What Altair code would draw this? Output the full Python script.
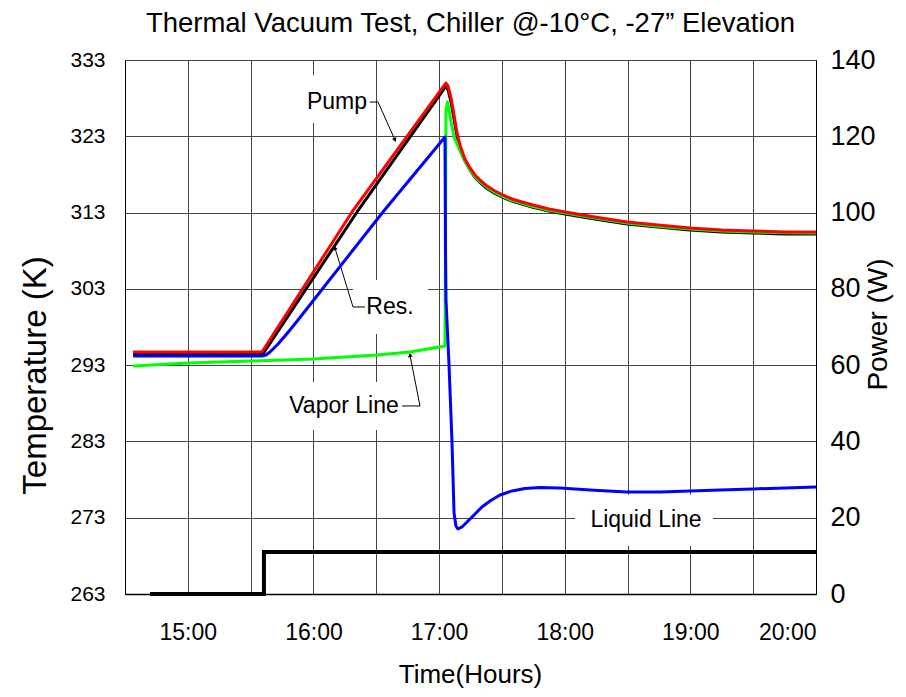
import altair as alt
import pandas as pd

FONT = "Liberation Sans, Arial, sans-serif"

# ---- data (hours of day, temperature in K / power in W) ----
red_h = [14.564, 15.590, 16.307, 17.055, 17.071, 17.095, 17.119, 17.134, 17.150, 17.174, 17.206, 17.246, 17.286, 17.325, 17.381, 17.445, 17.509, 17.580, 17.660, 17.747, 17.874, 18.002, 18.240, 18.496, 18.742, 18.997, 19.251, 19.498, 19.753, 20.0]
red_k = [294.73, 294.73, 313.08, 329.99, 329.59, 328.02, 325.79, 324.22, 322.91, 321.47, 320.03, 318.85, 317.93, 317.27, 316.48, 315.83, 315.30, 314.78, 314.39, 313.99, 313.47, 313.08, 312.42, 311.77, 311.37, 310.98, 310.72, 310.59, 310.46, 310.46]

black_h = [14.564, 15.598, 16.347, 17.055, 17.071, 17.095, 17.119, 17.134, 17.150, 17.174, 17.206, 17.246, 17.286, 17.325, 17.381, 17.445, 17.509, 17.580, 17.660, 17.747, 17.874, 18.002, 18.240, 18.496, 18.742, 18.997, 19.251, 19.498, 19.753, 20.0]
black_k = [294.46, 294.46, 313.08, 329.59, 329.1, 327.5, 325.3, 323.8, 322.5, 321.0, 319.75, 318.6, 317.6, 316.95, 316.15, 315.5, 315.0, 314.5, 314.1, 313.7, 313.2, 312.8, 312.15, 311.5, 311.1, 310.72, 310.45, 310.32, 310.2, 310.19]

green_h = [14.564, 15.001, 15.511, 15.996, 16.506, 16.768, 17.047, 17.055, 17.067, 17.079, 17.095, 17.119, 17.150, 17.174, 17.206, 17.246, 17.286, 17.325, 17.381, 17.445, 17.509, 17.580, 17.660, 17.747, 17.874, 18.002, 18.240, 18.496, 18.742, 18.997, 19.251, 19.498, 19.753, 20.0]
green_k = [292.89, 293.28, 293.55, 293.81, 294.33, 294.73, 295.51, 326.5, 327.49, 326.45, 324.9, 322.91, 321.7, 320.8, 319.7, 318.6, 317.7, 317.05, 316.3, 315.65, 315.1, 314.6, 314.2, 313.8, 313.3, 312.94, 312.3, 311.63, 311.2, 310.85, 310.6, 310.46, 310.36, 310.32]

blue_h = [14.564, 15.590, 15.622, 15.654, 15.686, 15.718, 15.766, 15.813, 15.877, 16.553, 17.047, 17.051, 17.055, 17.079, 17.103, 17.119, 17.134, 17.150, 17.182, 17.214, 17.246, 17.294, 17.341, 17.405, 17.485, 17.580, 17.684, 17.803, 17.962, 18.201, 18.496, 18.758, 18.997, 19.236, 19.498, 19.753, 20.0]
blue_k = [294.20, 294.20, 294.33, 294.73, 295.25, 295.77, 296.69, 297.61, 298.92, 313.08, 322.91, 308.1, 301.54, 293.02, 282.80, 273.62, 271.92, 271.52, 271.79, 272.31, 272.84, 273.62, 274.41, 275.19, 275.98, 276.51, 276.83, 276.96, 276.90, 276.64, 276.37, 276.37, 276.50, 276.64, 276.77, 276.90, 277.03]

power_h = [14.699, 15.606, 15.606, 20.0]
power_w = [0, 0, 11, 11]

# annotation labels (text, centre hour, centre K) and their white boxes
lab_text = ["Pump", "Res.", "Vapor Line", "Liquid Line"]
lab_h = [16.187, 16.609, 16.243, 18.647]
lab_k = [327.49, 300.62, 287.65, 272.70]
box_h1 = [15.933, 16.315, 15.758, 18.082]
box_h2 = [16.466, 16.912, 16.721, 19.180]
box_k1 = [331.0, 304.16, 290.79, 276.0]
box_k2 = [324.74, 297.08, 284.50, 269.30]

# leader lines (group, hour, K) and arrow tips
lead_g = ["p", "p", "p", "r", "r", "r", "v", "v", "v"]
lead_h = [16.450, 16.514, 16.649, 16.410, 16.315, 16.171, 16.705, 16.848, 16.768]
lead_k = [327.49, 327.49, 322.51, 300.62, 300.62, 308.36, 287.65, 287.65, 294.33]
tip_h = [16.649, 16.171, 16.768]
tip_k = [322.51, 308.36, 294.33]
tip_angle = [156, 343, 349]

# ---- tables ----
def df(h, k):
    return pd.DataFrame({"hour": h, "K": k, "i": range(len(h))})

xscale = alt.Scale(domain=[14.5, 20], nice=False, zero=False)
xaxis = alt.Axis(values=[14.5 + 0.5 * i for i in range(12)],
                 labelExpr="datum.value % 1 == 0 ? datum.value + ':00' : ''",
                 grid=True, gridColor="#444", gridWidth=1, ticks=False,
                 domainColor="black", domainWidth=1.5,
                 labelFont=FONT, labelFontSize=23, labelPadding=27, labelColor="black",
                 title="Time(Hours)", titleFont=FONT, titleFontSize=26,
                 titleFontWeight="normal", titleColor="black",
                 titleX=345, titleY=80, titleAlign="center", titleBaseline="middle")
x_enc = alt.X("hour:Q", scale=xscale, axis=xaxis)

tscale = alt.Scale(domain=[263, 333], nice=False, zero=False)
taxis = alt.Axis(values=list(range(263, 334, 10)), grid=True, gridColor="#444", gridWidth=1,
                 ticks=False, domainColor="black", labelFont=FONT, labelFontSize=21,
                 labelPadding=20, labelColor="black",
                 title="Temperature (K)", titleFont=FONT, titleFontSize=33,
                 titleFontWeight="normal", titleColor="black",
                 titleX=-90, titleY=315, titleAngle=270, titleAlign="center",
                 titleBaseline="middle")
y_enc = alt.Y("K:Q", scale=tscale, axis=taxis)

def tline(h, k, color, w=3):
    return alt.Chart(df(h, k)).mark_line(color=color, strokeWidth=w, strokeJoin="round").encode(
        x=x_enc, y=y_enc, order="i:Q")

box_df = pd.DataFrame({"h1": box_h1, "h2": box_h2, "k1": box_k1, "k2": box_k2})
boxes = alt.Chart(box_df).mark_rect(fill="white").encode(
    x=alt.X("h1:Q", scale=xscale, axis=xaxis), x2="h2:Q",
    y=alt.Y("k1:Q", scale=tscale, axis=taxis), y2="k2:Q")

lab_df = pd.DataFrame({"t": lab_text, "hour": lab_h, "K": lab_k})
labels = alt.Chart(lab_df).mark_text(font=FONT, fontSize=23, color="black", baseline="middle").encode(
    x=x_enc, y=y_enc, text="t:N")

lead_df = pd.DataFrame({"g": lead_g, "hour": lead_h, "K": lead_k, "i": range(len(lead_g))})
leaders = alt.Chart(lead_df).mark_line(color="black", strokeWidth=1).encode(
    x=x_enc, y=y_enc, detail="g:N", order="i:Q")

tip_df = pd.DataFrame({"hour": tip_h, "K": tip_k, "a": tip_angle})
tips = alt.Chart(tip_df).mark_point(shape="triangle-up", filled=True, color="black", size=22, opacity=1).encode(
    x=x_enc, y=y_enc, angle=alt.Angle("a:Q", scale=None))

temp = alt.layer(
    boxes, leaders, tips, labels,
    tline(black_h, black_k, "#000000"),
    tline(green_h, green_k, "#00FF00"),
    tline(red_h, red_k, "#FF0000"),
    tline(blue_h, blue_k, "#0000FF"),
)

power = alt.Chart(pd.DataFrame({"hour": power_h, "W": power_w, "i": range(len(power_h))})).mark_line(
    color="black", strokeWidth=4, strokeJoin="miter").encode(
    x=x_enc,
    y=alt.Y("W:Q", scale=alt.Scale(domain=[0, 140], nice=False, zero=False),
            axis=alt.Axis(orient="right", values=list(range(0, 141, 20)), grid=False, ticks=False,
                          domainColor="black", labelFont=FONT, labelFontSize=27, labelPadding=14,
                          labelColor="black",
                          title="Power (W)", titleFont=FONT, titleFontSize=28,
                          titleFontWeight="normal", titleColor="black",
                          titleX=62, titleY=264, titleAngle=270, titleAlign="center",
                          titleBaseline="middle")),
    order="i:Q")

chart = alt.layer(temp, power).resolve_scale(y="independent").properties(
    width=691, height=534,
    title=alt.TitleParams("Thermal Vacuum Test, Chiller @-10°C, -27\u201d Elevation",
                          font=FONT, fontSize=27.5, fontWeight="normal", color="black",
                          anchor="middle", offset=9),
    autosize=alt.AutoSizeParams(type="none"),
    padding={"left": 117, "top": 52, "right": 80, "bottom": 95},
).configure_view(stroke="#666", strokeWidth=1)

chart.save("out.html", embed_options={"renderer": "svg", "actions": False})
